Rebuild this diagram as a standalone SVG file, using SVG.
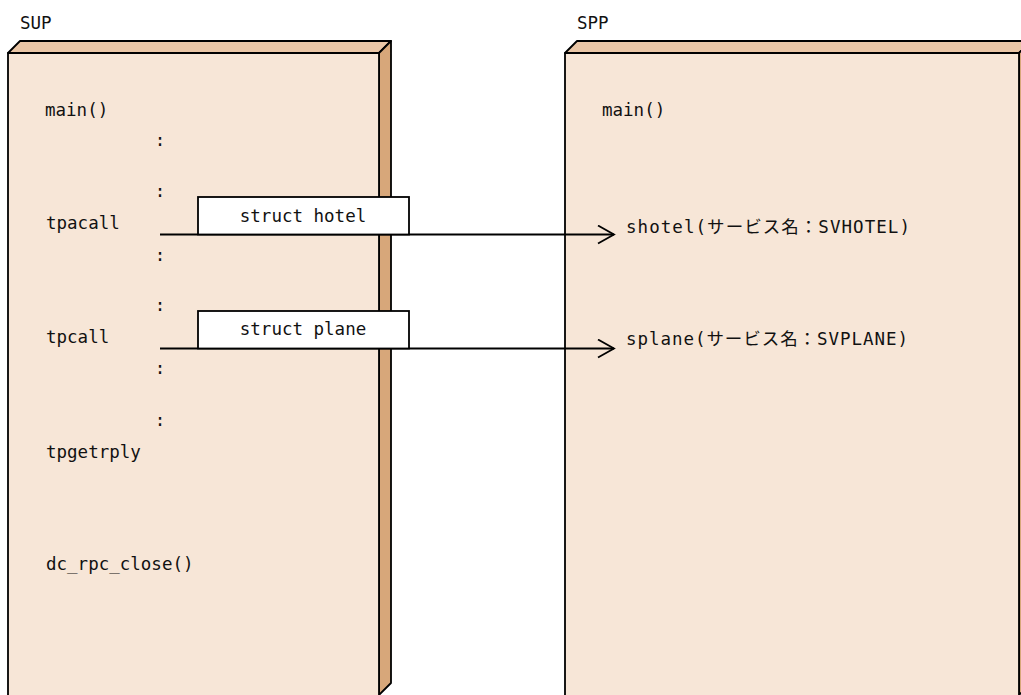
<svg xmlns="http://www.w3.org/2000/svg" width="1021" height="695" viewBox="0 0 1021 695">
<style>
.front{fill:#F7E6D7;stroke:#000;stroke-width:1.8;stroke-linejoin:round}
.top{fill:#EAC6A6;stroke:#000;stroke-width:1.8;stroke-linejoin:round}
.side{fill:#D7A77A;stroke:#000;stroke-width:1.8;stroke-linejoin:round}
.lbl{fill:#fff;stroke:#000;stroke-width:1.8}
text{font-family:"DejaVu Sans Mono","Liberation Mono","Noto Sans CJK JP",monospace;font-size:17.5px;fill:#111}
.c{text-anchor:middle}
.conn{stroke:#000;stroke-width:1.8;fill:none}
</style>
<defs>
<marker id="open" viewBox="0 0 20 20" refX="17" refY="10" markerWidth="20" markerHeight="20" markerUnits="userSpaceOnUse" orient="auto">
<path d="M1,1 L17,10 L1,19" fill="none" stroke="#000" stroke-width="1.8"/>
</marker>
</defs>
<rect width="1021" height="695" fill="#fff"/>

<g id="sup">
<text x="20" y="29">SUP</text>
<polygon class="top" points="8,53 20,41 391,41 379,53"/>
<polygon class="side" points="379,53 391,41 391,683 379,695"/>
<rect class="front" x="8" y="53" width="371" height="660"/>
<text x="45" y="116">main()</text>
<text class="c" x="160" y="146">:</text>
<text class="c" x="160" y="197">:</text>
<text x="46" y="229">tpacall</text>
<text class="c" x="160" y="261">:</text>
<text class="c" x="160" y="311">:</text>
<text x="46" y="343">tpcall</text>
<text class="c" x="160" y="374">:</text>
<text class="c" x="160" y="426">:</text>
<text x="46" y="458">tpgetrply</text>
<text x="46" y="570">dc_rpc_close()</text>
</g>

<g id="spp">
<text x="577" y="29">SPP</text>
<polygon class="top" points="565,53 577,41 1031,41 1019,53"/>
<polygon class="side" points="1019,53 1031,41 1031,683 1019,695"/>
<rect class="front" x="565" y="53" width="454" height="660"/>
<text x="602" y="116">main()</text>
<text x="626" y="233" textLength="284" lengthAdjust="spacing">shotel(サービス名：SVHOTEL)</text>
<text x="626" y="345" textLength="282" lengthAdjust="spacing">splane(サービス名：SVPLANE)</text>
</g>

<g id="connectors">
<line class="conn" x1="160" y1="234.5" x2="614" y2="234.5" marker-end="url(#open)"/>
<line class="conn" x1="160" y1="348.5" x2="614" y2="348.5" marker-end="url(#open)"/>
</g>

<g id="struct-hotel">
<rect class="lbl" x="198" y="197" width="211" height="37.5"/>
<text class="c" x="303" y="222">struct hotel</text>
</g>

<g id="struct-plane">
<rect class="lbl" x="198" y="311" width="211" height="37.5"/>
<text class="c" x="303" y="335">struct plane</text>
</g>
</svg>
